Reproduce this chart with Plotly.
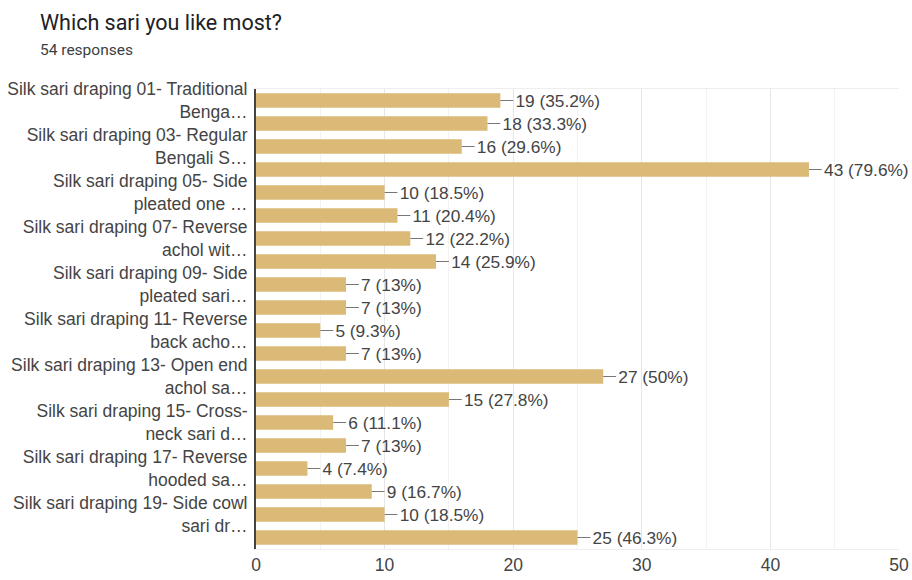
import plotly.graph_objects as go

categories = [f"Silk sari draping {i:02d}" for i in range(1, 21)]
tick_labels = {
    0: "Silk sari draping 01- Traditional<br>Benga…",
    2: "Silk sari draping 03- Regular<br>Bengali S…",
    4: "Silk sari draping 05- Side<br>pleated one …",
    6: "Silk sari draping 07- Reverse<br>achol wit…",
    8: "Silk sari draping 09- Side<br>pleated sari…",
    10: "Silk sari draping 11- Reverse<br>back acho…",
    12: "Silk sari draping 13- Open end<br>achol sa…",
    14: "Silk sari draping 15- Cross-<br>neck sari d…",
    16: "Silk sari draping 17- Reverse<br>hooded sa…",
    18: "Silk sari draping 19- Side cowl<br>sari dr…",
}
values = [19, 18, 16, 43, 10, 11, 12, 14, 7, 7, 5, 7, 27, 15, 6, 7, 4, 9, 10, 25]
percents = ["35.2%", "33.3%", "29.6%", "79.6%", "18.5%", "20.4%", "22.2%", "25.9%", "13%", "13%",
            "9.3%", "13%", "50%", "27.8%", "11.1%", "13%", "7.4%", "16.7%", "18.5%", "46.3%"]
total_responses = 54

labels = [f"\u2002\u2009{v} ({p})" for v, p in zip(values, percents)]

L, R, T, B = 256, 13, 89, 31
PW, PH = 912 - L - R, 580 - T - B

fig = go.Figure()
fig.add_trace(go.Bar(
    x=values, y=categories, orientation="h",
    marker=dict(color="#dbb977", line=dict(width=0)),
    width=0.62,
    text=labels, textposition="outside", constraintext="none", cliponaxis=False,
    textfont=dict(family="Liberation Sans, Arial", size=17.3, color="#444444"),
    error_x=dict(type="data", symmetric=False, array=[1.0] * len(values),
                 arrayminus=[0] * len(values), width=0, thickness=1, color="#777777"),
    hoverinfo="skip",
))

fig.update_layout(
    width=912, height=580,
    margin=dict(l=L, r=R, t=T, b=B, autoexpand=False),
    paper_bgcolor="white", plot_bgcolor="white",
    showlegend=False,
    xaxis=dict(
        range=[0, 50], tickvals=[0, 10, 20, 30, 40, 50],
        showgrid=True, gridcolor="#e6e6e6", gridwidth=1,
        minor=dict(dtick=5, showgrid=True, gridcolor="#f2f2f2"),
        zeroline=False, automargin=False,
        showline=True, linecolor="#eeeeee", linewidth=1, mirror=True,
        tickfont=dict(family="Liberation Sans, Arial", size=17.5, color="#444444"),
        ticks="", fixedrange=True,
    ),
    yaxis=dict(
        autorange="reversed", automargin=False,
        tickmode="array",
        tickvals=[categories[i] for i in tick_labels],
        ticktext=list(tick_labels.values()),
        tickfont=dict(family="Liberation Sans, Arial", size=17.5, color="#444444"),
        showline=True, linecolor="#444444", linewidth=2,
        showgrid=False, ticks="", ticklabelstandoff=3,
    ),
    annotations=[
        dict(text="Which sari you like most?", xref="paper", yref="paper",
             x=-(L - 38) / PW, y=1 + (T - 22) / PH, xanchor="left", yanchor="middle",
             showarrow=False, font=dict(family="Roboto, Arial", size=21.5, color="#202124")),
        dict(text=f"{total_responses} responses", xref="paper", yref="paper",
             x=-(L - 38) / PW, y=1 + (T - 50) / PH, xanchor="left", yanchor="middle",
             showarrow=False, font=dict(family="Roboto, Arial", size=15.5, color="#3c4043")),
    ],
)

fig.write_html("out.html")
